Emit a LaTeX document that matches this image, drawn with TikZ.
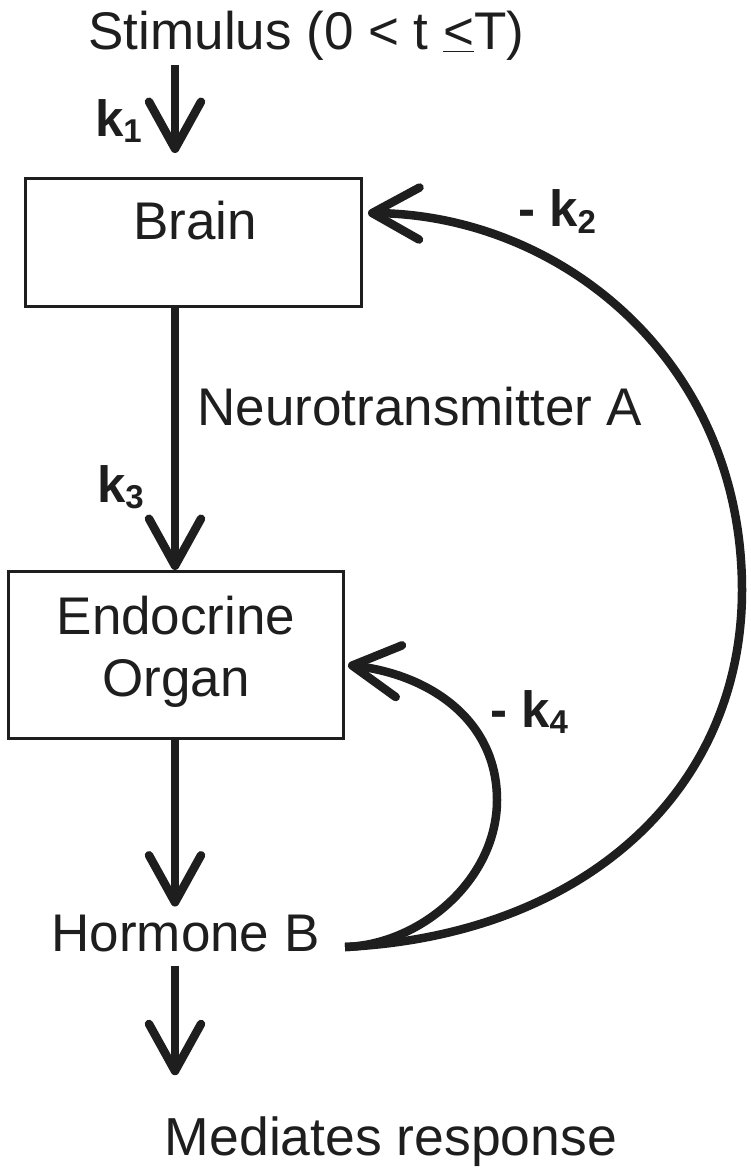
\documentclass[tikz,border=0pt]{standalone}
\usepackage{fontspec}
\setmainfont{Liberation Sans}
\usetikzlibrary{arrows.meta}
\definecolor{ink}{HTML}{1E1E1E}
\newcommand\ksub[1]{k\raisebox{-6pt}{\fontsize{33}{33}\selectfont #1}}
\begin{document}
\begin{tikzpicture}[x=1pt,y=-1pt,
  txt/.style={inner sep=0pt,outer sep=0pt,text=ink,font=\fontsize{53}{63}\selectfont},
  lbl/.style={inner sep=0pt,outer sep=0pt,text=ink,font=\fontsize{51}{60}\selectfont\bfseries},
  box/.style={draw=ink,line width=3pt,inner sep=0pt},
  arr/.style={draw=ink,line width=8.5pt,-{Straight Barb[length=47pt,width=52pt,round]}},
]
\fill[white] (0,0) rectangle (750,1174);
\useasboundingbox (0,0) rectangle (750,1174);
\coordinate (axis) at (175,0);
\coordinate (fb) at (345,947);
% texts
\node[txt,anchor=base] (stim) at (306.5,50) {Stimulus (0 < t \underline{<}T)};
\node[box,minimum width=336pt,minimum height=128pt] (brain) at (193.5,242.5) {};
\node[txt,anchor=base] (braintxt) at (195,240) {Brain};
\node[txt,anchor=base] (neuro) at (420,425) {Neurotransmitter A};
\node[box,minimum width=335pt,minimum height=167pt] (endo) at (176,655) {};
\node[txt,anchor=base] (endo1) at (176,634) {Endocrine};
\node[txt,anchor=base] (endo2) at (176,696) {Organ};
\node[txt,anchor=base] (hormone) at (185.5,951) {Hormone B};
\node[txt,anchor=base,font=\fontsize{53.5}{63}\selectfont] (med) at (391,1155) {Mediates response};
% rate labels
\node[lbl,anchor=base west] (k1) at (95,137) {\ksub{1}};
\node[lbl,anchor=base west] (k3) at (97,502) {\ksub{3}};
\node[lbl,anchor=base west] (k2) at (518,227) {- \ksub{2}};
\node[lbl,anchor=base west] (k4) at (490,727) {- \ksub{4}};
% straight arrows
\draw[arr,shorten <=4pt,shorten >=24pt] (stim.south -| axis) -- (brain.north -| axis);
\draw[arr] (brain.south -| axis) -- (endo.north -| axis);
\draw[arr,shorten >=8pt] (endo.south -| axis) -- (hormone.north -| axis);
\draw[arr,shorten <=14pt,shorten >=41pt] (hormone.south -| axis) -- (med.north -| axis);
% feedback curves
\draw[arr] (fb) .. controls (585,935) and (742,790) .. (742,590)
  .. controls (742,360) and (560,215) .. ([shift={(5pt,29.5pt)}]brain.east);
\draw[arr] (fb) .. controls (420,945) and (497,880) .. (497,800)
  .. controls (497,720) and (430,675) .. ([shift={(3pt,-10pt)}]endo.east);
\end{tikzpicture}
\end{document}
